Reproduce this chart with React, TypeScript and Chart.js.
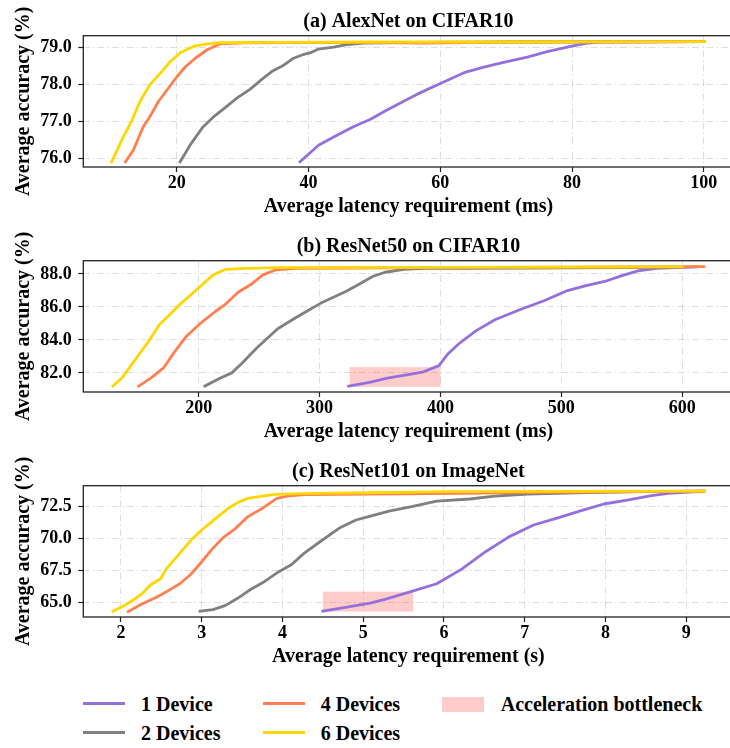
import React, { useEffect, useRef } from "react";
import { Chart, registerables } from "chart.js";

Chart.register(...registerables);

type Pt = [number, number];

// ---------- DATA ----------
const seriesNames = ["1 Device", "2 Devices", "4 Devices", "6 Devices"];
const bottleneckLabel = "Acceleration bottleneck";

// (a) AlexNet on CIFAR10 (latency ms, accuracy %)
const alex1: Pt[] = [[38.7, 75.9], [41.5, 76.35], [44.3, 76.62], [46.8, 76.85], [49.4, 77.05], [51.9, 77.3], [54, 77.5], [56.5, 77.73], [60, 78.02], [63.6, 78.31], [66.6, 78.46], [69.6, 78.59], [73.2, 78.73], [76.2, 78.88], [79.8, 79.02], [82.3, 79.11], [84.3, 79.14], [100, 79.15]];
const alex2: Pt[] = [[20.5, 75.9], [22.0, 76.35], [24.0, 76.85], [25.6, 77.12], [27.3, 77.36], [29.1, 77.62], [31.1, 77.86], [32.9, 78.13], [34.4, 78.34], [36.0, 78.49], [37.7, 78.7], [39.0, 78.79], [40.3, 78.85], [41.5, 78.95], [43.8, 79.0], [45.8, 79.07], [48.4, 79.11], [55.5, 79.13], [70, 79.14], [100, 79.15]];
const alex4: Pt[] = [[12.2, 75.9], [13.4, 76.22], [14.9, 76.85], [15.9, 77.12], [17.2, 77.53], [18.7, 77.89], [20.0, 78.2], [21.3, 78.47], [22.8, 78.7], [24.6, 78.93], [26.6, 79.09], [30, 79.12], [45, 79.13], [58, 79.11], [70, 79.14], [100, 79.15]];
const alex6: Pt[] = [[10.1, 75.9], [11.9, 76.58], [13.2, 77.03], [14.4, 77.53], [15.9, 77.98], [17.7, 78.34], [19.0, 78.61], [20.5, 78.85], [22.5, 79.02], [24.6, 79.09], [26.6, 79.12], [35, 79.13], [50, 79.14], [70, 79.14], [100, 79.15]];

// (b) ResNet50 on CIFAR10
const res50_1: Pt[] = [[324.1, 81.2], [342.3, 81.44], [356, 81.68], [373.1, 81.9], [385.1, 82.04], [398.8, 82.44], [405.7, 83.11], [415, 83.75], [429.6, 84.56], [445.1, 85.22], [465.6, 85.83], [486.2, 86.39], [505.1, 86.99], [520.5, 87.29], [535.9, 87.54], [549.6, 87.88], [563.4, 88.18], [578.8, 88.34], [601, 88.4], [612, 88.42]];
const res50_2: Pt[] = [[205.1, 81.2], [217.1, 81.66], [227.4, 82.0], [236, 82.6], [248, 83.51], [265.1, 84.66], [280.5, 85.36], [289.1, 85.72], [301.1, 86.23], [321.7, 86.93], [331.9, 87.34], [343.9, 87.84], [354.2, 88.1], [369.7, 88.28], [386.8, 88.34], [420, 88.34], [600, 88.4]];
const res50_4: Pt[] = [[150.3, 81.2], [160.6, 81.7], [170.9, 82.3], [179.4, 83.21], [189.7, 84.21], [201.7, 85.02], [213.7, 85.72], [222.3, 86.17], [232.6, 86.89], [242.8, 87.34], [253.1, 87.94], [263.4, 88.24], [280.5, 88.34], [400, 88.38], [618, 88.44]];
const res50_6: Pt[] = [[129, 81.2], [136.5, 81.7], [146.9, 82.74], [158.9, 83.95], [167.4, 84.92], [176, 85.52], [184.6, 86.17], [196.6, 86.93], [212, 87.94], [222.3, 88.28], [239.4, 88.34], [266.8, 88.38], [400, 88.4], [600, 88.42]];
const res50Bottleneck = [325, 400, 81.15, 82.35]; // x0, x1, y0, y1

// (c) ResNet101 on ImageNet (latency s)
const res101_1: Pt[] = [[4.5, 64.33], [4.78, 64.64], [5.09, 64.97], [5.29, 65.29], [5.6, 65.88], [5.91, 66.48], [6.22, 67.62], [6.52, 69.0], [6.81, 70.16], [7.11, 71.07], [7.39, 71.59], [7.7, 72.19], [7.98, 72.71], [8.27, 73.02], [8.57, 73.36], [8.78, 73.54], [9.22, 73.72]];
const res101_2: Pt[] = [[2.98, 64.33], [3.14, 64.46], [3.29, 64.77], [3.45, 65.36], [3.6, 66.01], [3.78, 66.66], [3.96, 67.44], [4.11, 67.96], [4.27, 68.87], [4.47, 69.78], [4.7, 70.81], [4.91, 71.46], [5.09, 71.77], [5.32, 72.16], [5.6, 72.5], [5.91, 72.94], [6.32, 73.1], [6.63, 73.33], [7.04, 73.49], [7.65, 73.59], [8.42, 73.67], [9.19, 73.72]];
const res101_4: Pt[] = [[2.09, 64.3], [2.24, 64.84], [2.42, 65.36], [2.57, 65.88], [2.73, 66.48], [2.86, 67.18], [2.98, 68.04], [3.14, 69.26], [3.27, 70.11], [3.42, 70.81], [3.57, 71.72], [3.75, 72.37], [3.93, 73.15], [4.06, 73.33], [4.27, 73.44], [5.5, 73.5], [7, 73.6], [9.22, 73.72]];
const res101_6: Pt[] = [[1.9, 64.33], [2.01, 64.66], [2.16, 65.23], [2.27, 65.75], [2.37, 66.4], [2.49, 66.87], [2.57, 67.7], [2.73, 68.87], [2.88, 69.96], [3.0, 70.68], [3.16, 71.51], [3.34, 72.42], [3.45, 72.84], [3.57, 73.15], [3.75, 73.33], [3.91, 73.46], [4.37, 73.54], [5.09, 73.59], [6.11, 73.67], [9.22, 73.72]];
const res101Bottleneck = [4.5, 5.62, 64.3, 65.86];

// ---------- STYLE ----------
const FONT = "'Liberation Serif', 'Times New Roman', serif";
const COLORS = ["#9370DB", "#808080", "#FF7F50", "#FFD700"];
const PATCH = "rgba(255,0,0,0.2)";

interface Panel {
  title: string;
  xTitle: string;
  series: Pt[][];
  xMin: number; xMax: number; xStep: number;
  yMin: number; yMax: number; yStep: number;
  box?: number[];
}

const panels: Panel[] = [
  { title: "(a) AlexNet on CIFAR10", xTitle: "Average latency requirement (ms)", series: [alex1, alex2, alex4, alex6], xMin: 5.8, xMax: 104.5, xStep: 20, yMin: 75.76, yMax: 79.31, yStep: 1 },
  { title: "(b) ResNet50 on CIFAR10", xTitle: "Average latency requirement (ms)", series: [res50_1, res50_2, res50_4, res50_6], xMin: 104.5, xMax: 642.5, xStep: 100, yMin: 80.84, yMax: 88.8, yStep: 2, box: res50Bottleneck },
  { title: "(c) ResNet101 on ImageNet", xTitle: "Average latency requirement (s)", series: [res101_1, res101_2, res101_4, res101_6], xMin: 1.534, xMax: 9.586, xStep: 1, yMin: 63.88, yMax: 74.14, yStep: 2.5, box: res101Bottleneck },
];

const CW = 740;
const CH = 225;

function PanelChart({ p, top }: { p: Panel; top: number }) {
  const ref = useRef<HTMLCanvasElement>(null);
  useEffect(() => {
    if (!ref.current) return;
    const boxPlugin = {
      id: "bottleneckBox",
      beforeDatasetsDraw(chart: any) {
        if (!p.box) return;
        const { ctx, scales } = chart;
        const x0 = scales.x.getPixelForValue(p.box[0]);
        const x1 = scales.x.getPixelForValue(p.box[1]);
        const y0 = scales.y.getPixelForValue(p.box[2]);
        const y1 = scales.y.getPixelForValue(p.box[3]);
        ctx.save();
        ctx.fillStyle = PATCH;
        ctx.fillRect(x0, y1, x1 - x0, y0 - y1);
        ctx.restore();
      },
    };
    const framePlugin = {
      id: "frame",
      afterDatasetsDraw(chart: any) {
        const { ctx, chartArea: a } = chart;
        ctx.save();
        ctx.strokeStyle = "#222";
        ctx.lineWidth = 1.3;
        ctx.strokeRect(a.left, a.top, a.right - a.left, a.bottom - a.top);
        ctx.restore();
      },
    };
    const tickFont = { family: FONT, size: 18, weight: "bold" as const };
    const titleFont = { family: FONT, size: 20, weight: "bold" as const };
    const grid = {
      color: "rgba(0,0,0,0.13)",
      lineWidth: 1,
      tickLength: 5,
      tickColor: "#222",
      tickWidth: 1.2,
    };
    const border = { display: false, dash: [7, 3, 1.5, 3] };
    const order = [4, 3, 2, 1];
    const chart = new Chart(ref.current, {
      type: "line",
      data: {
        datasets: p.series.map((s, i) => ({
          label: seriesNames[i],
          data: s.map(([x, y]) => ({ x, y })),
          borderColor: COLORS[i],
          backgroundColor: COLORS[i],
          borderWidth: 2.8,
          pointRadius: 0,
          tension: 0,
          fill: false,
          order: order[i],
          borderCapStyle: "square",
          borderJoinStyle: "round",
        })),
      },
      options: {
        animation: false,
        responsive: false,
        devicePixelRatio: 1,
        layout: { padding: { left: 0, right: CW - 733.5, top: 0, bottom: 0 } },
        plugins: {
          legend: { display: false },
          tooltip: { enabled: false },
          title: {
            display: true,
            text: p.title,
            font: titleFont,
            color: "#000",
            padding: { top: 9.5, bottom: 2.2 },
            fullSize: false,
          },
        },
        scales: {
          x: {
            type: "linear",
            min: p.xMin,
            max: p.xMax,
            afterFit: (s: any) => { s.height = 58; },
            ticks: {
              stepSize: p.xStep,
              includeBounds: false,
              font: tickFont,
              color: "#000",
              padding: 1,
              maxRotation: 0,
              autoSkip: false,
              callback: (v: any) => String(v),
            },
            grid,
            border,
            title: { display: true, text: p.xTitle, font: titleFont, color: "#000", padding: { top: 0, bottom: 6.5 } },
          },
          y: {
            type: "linear",
            min: p.yMin,
            max: p.yMax,
            afterFit: (s: any) => { s.width = 83.3; },
            ticks: {
              stepSize: p.yStep,
              includeBounds: false,
              font: tickFont,
              color: "#000",
              padding: 6.6,
              autoSkip: false,
              callback: (v: any) => Number(v).toFixed(1),
            },
            grid,
            border,
            title: { display: true, text: "Average accuracy (%)", font: titleFont, color: "#000", padding: { top: 12.3, bottom: 0 } },
          },
        },
      } as any,
      plugins: [boxPlugin, framePlugin],
    });
    return () => chart.destroy();
  }, [p]);
  return (
    <canvas
      ref={ref}
      width={CW}
      height={CH}
      style={{ position: "absolute", left: 0, top, width: CW, height: CH, display: "block" }}
    />
  );
}

const textStyle: React.CSSProperties = {
  position: "absolute",
  fontFamily: FONT,
  fontWeight: "bold",
  fontSize: 20,
  lineHeight: "24px",
  whiteSpace: "nowrap",
  color: "#000",
};

export default function App() {
  const legendItems = [
    { label: seriesNames[0], color: COLORS[0], lx: 83, tx: 141, row: 0 },
    { label: seriesNames[1], color: COLORS[1], lx: 83, tx: 141, row: 1 },
    { label: seriesNames[2], color: COLORS[2], lx: 263, tx: 320.7, row: 0 },
    { label: seriesNames[3], color: COLORS[3], lx: 263, tx: 320.7, row: 1 },
  ];
  const rowLineY = [703.3, 732.3];
  const rowTextTop = [692, 721.3];
  return (
    <div style={{ position: "fixed", left: 0, top: 0, width: 730, height: 748, overflow: "hidden", background: "#fff" }}>
      {panels.map((p, i) => (
        <PanelChart key={i} p={p} top={i * CH} />
      ))}
      {legendItems.map((it, i) => (
        <React.Fragment key={i}>
          <div style={{ position: "absolute", left: it.lx, top: rowLineY[it.row] - 1.75, width: 42, height: 3.5, background: it.color }} />
          <div style={{ ...textStyle, left: it.tx, top: rowTextTop[it.row] }}>{it.label}</div>
        </React.Fragment>
      ))}
      <div style={{ position: "absolute", left: 442, top: 697, width: 42, height: 14.5, background: PATCH }} />
      <div style={{ ...textStyle, left: 500.7, top: rowTextTop[0] }}>{bottleneckLabel}</div>
    </div>
  );
}
